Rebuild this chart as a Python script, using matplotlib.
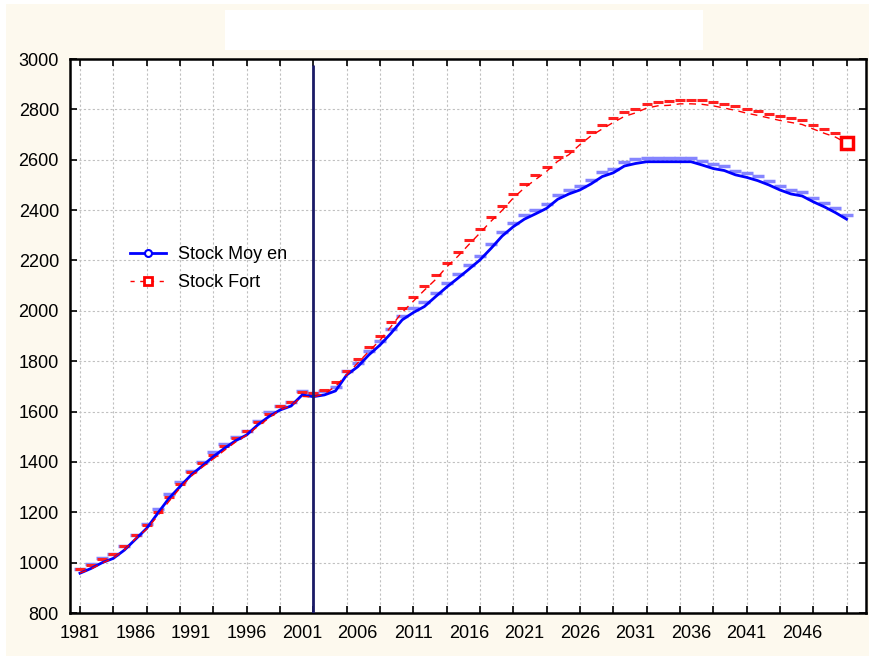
import matplotlib
matplotlib.use("Agg")
import matplotlib.pyplot as plt
import matplotlib.transforms as mtransforms
from matplotlib.patches import Rectangle
from matplotlib.lines import Line2D

plt.rcParams['font.family'] = ['Liberation Sans', 'DejaVu Sans']

years = list(range(1981, 2051))
stock_moyen = [958, 977, 1000, 1017, 1050, 1093, 1136, 1196, 1255, 1302,
               1348, 1384, 1421, 1454, 1484, 1507, 1547, 1580, 1606, 1622,
               1666, 1659, 1666, 1682, 1745, 1778, 1825, 1864, 1911, 1964,
               1993, 2017, 2056, 2094, 2129, 2165, 2202, 2248, 2297, 2334,
               2364, 2385, 2407, 2443, 2464, 2480, 2504, 2533, 2548, 2575,
               2585, 2592, 2592, 2592, 2592, 2592, 2579, 2565, 2557, 2540,
               2530, 2517, 2500, 2480, 2464, 2456, 2433, 2413, 2390, 2364]
stock_fort = [959, 975, 998, 1018, 1051, 1095, 1133, 1186, 1243, 1296,
              1343, 1379, 1412, 1446, 1479, 1506, 1541, 1574, 1607, 1623,
              1660, 1658, 1670, 1700, 1746, 1793, 1839, 1883, 1938, 1994,
              2038, 2082, 2124, 2174, 2216, 2263, 2309, 2356, 2399, 2448,
              2488, 2521, 2554, 2594, 2620, 2660, 2695, 2722, 2748, 2772,
              2786, 2805, 2814, 2816, 2822, 2822, 2820, 2814, 2805, 2796,
              2785, 2776, 2766, 2756, 2748, 2740, 2722, 2705, 2690, 2666]
labels = ['Stock Moy en', 'Stock Fort']
label_years = list(range(1981, 2050, 5))
tick_years = list(range(1981, 2051, 3))
y_ticks = list(range(800, 3001, 200))
event_year = 2002
event_top = 2975

fig = plt.figure(figsize=(8.69, 6.56), dpi=100, facecolor='white')
fig.patches.append(Rectangle((6 / 869, 0), 1, 1 - 4 / 656, transform=fig.transFigure,
                             facecolor='#fdf9ee', edgecolor='none', zorder=-10))
fig.patches.append(Rectangle((225 / 869, 1 - 50 / 656), 478 / 869, 40 / 656,
                             transform=fig.transFigure, facecolor='white',
                             edgecolor='none', zorder=-9))

ax = fig.add_axes([70 / 869, 1 - 613 / 656, 796 / 869, 554 / 656])
ax.set_facecolor('white')

# little dashes drawn just above each point
up = mtransforms.offset_copy(ax.transData, fig=fig, x=0, y=3, units='points')
ax.plot(years, stock_moyen, linestyle='none', marker='_', markersize=9,
        markeredgewidth=2.5, color='#8585ff', transform=up, zorder=3)
ax.plot(years, stock_fort, linestyle='none', marker='_', markersize=7,
        markeredgewidth=2.2, color='#ff2020', transform=up, zorder=3)

ax.plot(years, stock_moyen, color='#0000ff', lw=2, zorder=4)
ax.plot(years, stock_fort, color='#ff0000', lw=1, dashes=(5, 4), zorder=4)
ax.plot(years, stock_fort, linestyle='none', marker='s', markersize=9,
        markerfacecolor='white', markeredgecolor='#ff0000', markeredgewidth=2.5,
        markevery=[len(years) - 1], zorder=5)

ax.vlines(event_year, y_ticks[0], event_top, color='#1a1a66', lw=2, zorder=6)

ax.set_xlim(1980.1, 2051.75)
ax.set_ylim(800, 3000)
ax.set_yticks(y_ticks)
ax.xaxis.remove_overlapping_locs = False
ax.set_xticks(tick_years)
ax.set_xticklabels([])
ax.set_xticks(label_years, minor=True)
ax.set_xticklabels([str(y) for y in label_years], minor=True)
ax.tick_params(axis='x', which='minor', length=0, pad=9, labelsize=13)
ax.tick_params(axis='both', which='major', direction='in', length=5, width=1.2,
               top=True, right=True, labelsize=13)
ax.tick_params(axis='y', pad=8)
ax.grid(True, which='major', color='#c0c0c0', linestyle=(0, (2, 2)), lw=0.8)
for s in ax.spines.values():
    s.set_linewidth(1.8)
    s.set_color('black')

handles = [Line2D([], [], color='#0000ff', lw=2, marker='o', markersize=5,
                  markerfacecolor='white', markeredgecolor='#0000ff', markeredgewidth=1.5),
           Line2D([], [], color='#ff0000', lw=1, dashes=(3, 4), marker='s', markersize=6,
                  markerfacecolor='white', markeredgecolor='#ff0000', markeredgewidth=2)]
ax.legend(handles, labels, loc='upper left', bbox_to_anchor=(0.075, 0.662),
          frameon=False, fontsize=13, handlelength=2.0, handletextpad=0.7,
          labelspacing=0.6, borderpad=0, borderaxespad=0)

fig.savefig('out.png', dpi=100, facecolor=fig.get_facecolor())
